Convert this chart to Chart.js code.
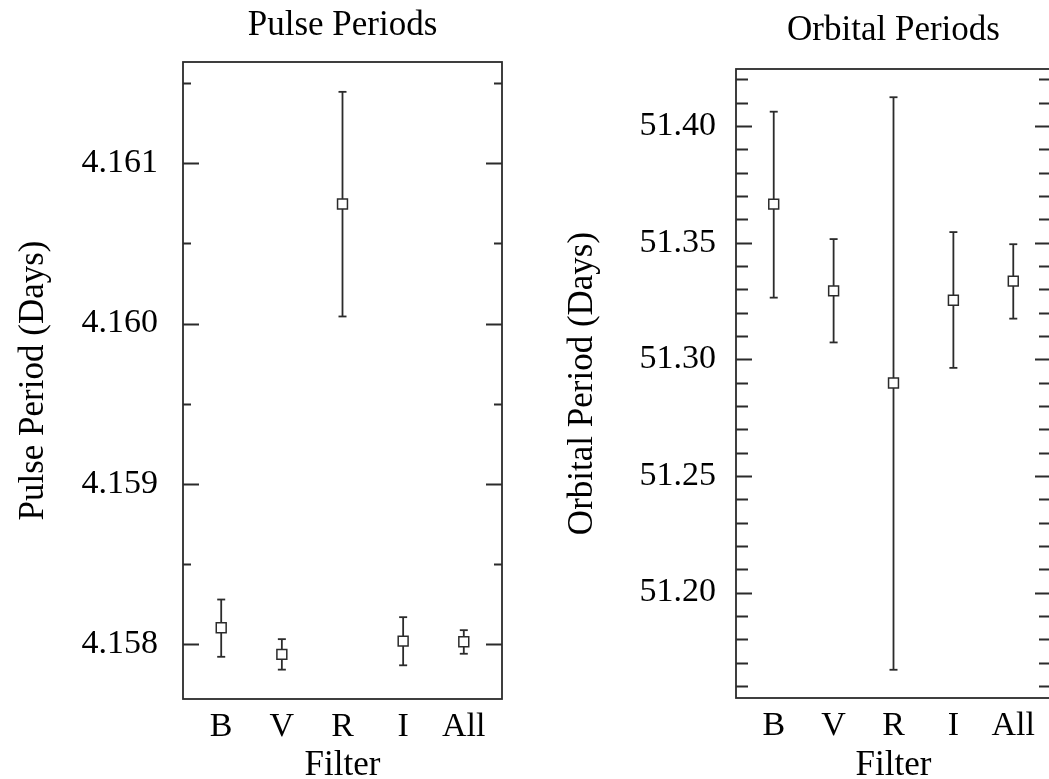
<!DOCTYPE html>
<html>
<head>
<meta charset="utf-8">
<script src="https://cdn.jsdelivr.net/npm/chart.js@4.4.0/dist/chart.umd.min.js"></script>
<style>
  html, body { margin: 0; padding: 0; background: #fff; overflow: hidden; width: 1049px; height: 779px; }
  canvas { position: absolute; top: 0; }
  #pulse { left: 0; }
  #orbit { left: 530px; }
</style>
</head>
<body>
<canvas id="pulse" width="525" height="790"></canvas>
<canvas id="orbit" width="530" height="790"></canvas>
<script>
const filters = ["B", "V", "R", "I", "All"];

// pulse period (days), with lower / upper ends of the error bars
const pulseVal = [4.158104, 4.157938, 4.160745, 4.158021, 4.158017];
const pulseLo  = [4.157923, 4.157843, 4.160044, 4.157870, 4.157942];
const pulseHi  = [4.158280, 4.158033, 4.161444, 4.158170, 4.158089];

// orbital period (days)
const orbVal = [51.3665, 51.3293, 51.2898, 51.3253, 51.3335];
const orbLo  = [51.3264, 51.3072, 51.1669, 51.2963, 51.3174];
const orbHi  = [51.4061, 51.3515, 51.4123, 51.3545, 51.3493];

const INK = "#2b2b2b";
const FONT = "'Liberation Serif', 'Times New Roman', serif";

// box around the plot area + inward ticks on both sides
const frameTicks = {
    id: "frameTicks",
    afterDatasetsDraw(chart, args, opts) {
        const { ctx, chartArea: a } = chart;
        const y = chart.scales.y;
        ctx.save();
        ctx.strokeStyle = INK;
        ctx.lineWidth = 1.8;
        ctx.strokeRect(a.left, a.top, a.right - a.left, a.bottom - a.top);
        ctx.beginPath();
        const step = opts.minorStep;
        const k0 = Math.ceil(y.min / step - 1e-6);
        const k1 = Math.floor(y.max / step + 1e-6);
        for (let k = k0; k <= k1; k++) {
            const v = k * step;
            const major = y.ticks.some(t => Math.abs(t.value - v) < step / 10);
            const len = major ? opts.majorLen : opts.minorLen;
            const py = Math.round(y.getPixelForValue(v)) + 0.5;
            ctx.moveTo(a.left, py);  ctx.lineTo(a.left + len, py);
            ctx.moveTo(a.right, py); ctx.lineTo(a.right - len, py);
        }
        ctx.stroke();
        ctx.restore();
    }
};

function errorBarPoints(lo, hi) {
    const pts = [];
    lo.forEach((v, i) => {
        pts.push({ x: i + 1, y: v });
        pts.push({ x: i + 1, y: hi[i] });
        pts.push({ x: i + 1, y: null });
    });
    return pts;
}

function buildPanel(canvas, p) {
    new Chart(canvas, {
        type: "scatter",
        data: {
            datasets: [
                {
                    label: "value",
                    data: p.val.map((v, i) => ({ x: i + 1, y: v })),
                    pointStyle: "rect",
                    pointRadius: 7,
                    pointBackgroundColor: "#fff",
                    pointBorderColor: INK,
                    pointBorderWidth: 1.5,
                    showLine: false
                },
                {
                    label: "error",
                    data: errorBarPoints(p.lo, p.hi),
                    showLine: true,
                    spanGaps: false,
                    borderColor: INK,
                    borderWidth: 1.8,
                    pointStyle: "line",
                    pointRadius: 4,
                    pointBorderColor: INK,
                    pointBorderWidth: 1.8
                }
            ]
        },
        options: {
            responsive: false,
            animation: false,
            events: [],
            layout: { padding: { right: p.padRight } },
            plugins: {
                legend: { display: false },
                tooltip: { enabled: false },
                frameTicks: { minorStep: p.minorStep, majorLen: 16, minorLen: p.minorLen }
            },
            scales: {
                x: {
                    type: "linear",
                    position: "bottom",
                    min: 0.37,
                    max: 5.63,
                    grid: { display: false },
                    border: { display: false },
                    afterBuildTicks: s => { s.ticks = filters.map((_, i) => ({ value: i + 1 })); },
                    afterFit: s => { s.height = p.bottomH; },
                    ticks: {
                        padding: 0,
                        maxRotation: 0,
                        autoSkip: false,
                        color: "#000",
                        font: { family: FONT, size: 34 },
                        callback: v => filters[v - 1]
                    },
                    title: {
                        display: true,
                        text: "Filter",
                        color: "#000",
                        font: { family: FONT, size: 35 },
                        padding: { top: 0, bottom: 3 }
                    }
                },
                top: {
                    type: "linear",
                    position: "top",
                    min: 0.37,
                    max: 5.63,
                    grid: { display: false },
                    border: { display: false },
                    ticks: { display: false },
                    afterFit: s => { s.height = p.topH; },
                    title: {
                        display: true,
                        text: p.title,
                        color: "#000",
                        font: { family: FONT, size: 35 },
                        padding: { top: p.titlePad, bottom: 0 }
                    }
                },
                y: {
                    type: "linear",
                    position: "left",
                    min: p.yMin,
                    max: p.yMax,
                    grid: { display: false },
                    border: { display: false },
                    afterFit: s => { s.width = p.leftW; },
                    ticks: {
                        stepSize: p.majorStep,
                        includeBounds: false,
                        padding: p.tickPad,
                        color: "#000",
                        font: { family: FONT, size: 34 },
                        callback: v => v.toFixed(p.decimals)
                    },
                    title: {
                        display: true,
                        text: p.yTitle,
                        color: "#000",
                        font: { family: FONT, size: 35 },
                        padding: { top: p.yTitlePad, bottom: 0 }
                    }
                }
            }
        },
        plugins: [frameTicks]
    });
}

buildPanel(document.getElementById("pulse"), {
    val: pulseVal, lo: pulseLo, hi: pulseHi,
    title: "Pulse Periods",
    yTitle: "Pulse Period (Days)",
    yMin: 4.15766, yMax: 4.16163,
    majorStep: 0.001, minorStep: 0.0005, minorLen: 8, decimals: 3,
    leftW: 183, topH: 62, bottomH: 91, padRight: 23,
    tickPad: 17, yTitlePad: 13, titlePad: 5
});

buildPanel(document.getElementById("orbit"), {
    val: orbVal, lo: orbLo, hi: orbHi,
    title: "Orbital Periods",
    yTitle: "Orbital Period (Days)",
    yMin: 51.1548, yMax: 51.4244,
    majorStep: 0.05, minorStep: 0.01, minorLen: 12, decimals: 2,
    leftW: 206, topH: 69, bottomH: 92, padRight: 9,
    tickPad: 12, yTitlePad: 32, titlePad: 10
});
</script>
</body>
</html>
